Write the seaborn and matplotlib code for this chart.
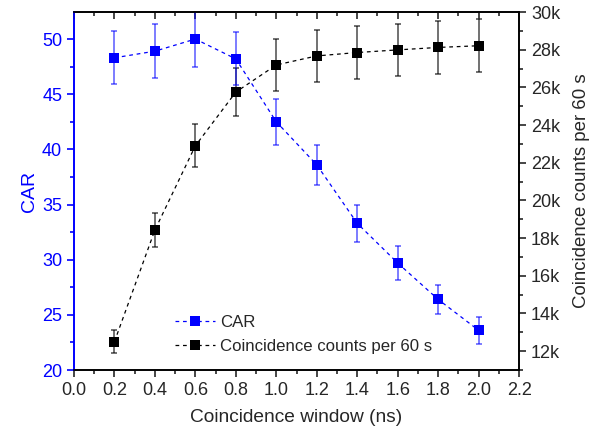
import numpy as np
import pandas as pd
import matplotlib
matplotlib.use("Agg")
import matplotlib.pyplot as plt
from matplotlib.ticker import MultipleLocator, FuncFormatter
import seaborn as sns

# Data
window_ns = [0.2, 0.4, 0.6, 0.8, 1.0, 1.2, 1.4, 1.6, 1.8, 2.0]
car = [48.3, 48.9, 50.0, 48.2, 42.5, 38.6, 33.3, 29.7, 26.4, 23.6]
car_err = [2.4, 2.45, 2.5, 2.4, 2.1, 1.8, 1.7, 1.5, 1.3, 1.2]
counts = [12500, 18430, 22900, 25750, 27190, 27670, 27850, 27990, 28120, 28210]
counts_err = [620, 900, 1150, 1290, 1360, 1370, 1400, 1400, 1400, 1400]

sns.set_style("ticks")
plt.rcParams['font.family'] = ['Liberation Sans', 'DejaVu Sans']

df = pd.DataFrame({'window': window_ns, 'car': car, 'counts': counts})

fig = plt.figure(figsize=(5.98, 4.37), dpi=100)
ax = fig.add_axes([0.1237, 0.1533, 0.7443, 0.8192])
ax2 = ax.twinx()

blue = '#0000ff'

# CAR on left axis
ax.errorbar(window_ns, car, yerr=car_err, fmt='none', ecolor=blue, alpha=0.6,
            elinewidth=1.2, capsize=2.5, capthick=1.2, zorder=2)
sns.lineplot(data=df, x='window', y='car', ax=ax, color=blue, marker='s',
             markersize=7, markeredgewidth=0, linestyle=(0, (3, 3)),
             linewidth=0.9, label='CAR', legend=False, zorder=3)

# counts on right axis
ax2.errorbar(window_ns, counts, yerr=counts_err, fmt='none', ecolor='black', alpha=0.65,
             elinewidth=1.2, capsize=2.5, capthick=1.2, zorder=2)
sns.lineplot(data=df, x='window', y='counts', ax=ax2, color='black', marker='s',
             markersize=7, markeredgewidth=0, linestyle=(0, (3, 3)),
             linewidth=0.9, label='Coincidence counts per 60 s', legend=False, zorder=3)

ax.set_xlim(0, 2.2)
ax.set_ylim(20, 52.45)
ax2.set_ylim(11000, 30000)

ax.xaxis.set_major_locator(MultipleLocator(0.2))
ax.xaxis.set_minor_locator(MultipleLocator(0.1))
ax.xaxis.set_major_formatter(FuncFormatter(lambda v, p: f"{v:.1f}"))
ax.yaxis.set_major_locator(MultipleLocator(5))
ax.yaxis.set_minor_locator(MultipleLocator(2.5))
ax2.yaxis.set_major_locator(MultipleLocator(2000))
ax2.yaxis.set_minor_locator(MultipleLocator(1000))
ax2.yaxis.set_major_formatter(FuncFormatter(lambda v, p: f"{v/1000:.0f}k"))

# spines
for a in (ax, ax2):
    for s in a.spines.values():
        s.set_linewidth(1.2)
        s.set_color('black')
ax2.spines['left'].set_color(blue)
ax.spines['left'].set_color(blue)

ax.tick_params(axis='x', which='major', direction='out', length=5, width=1.2, labelsize=13)
ax.tick_params(axis='x', which='minor', direction='out', length=3, width=1.2)
ax.tick_params(axis='y', which='major', direction='out', length=5, width=1.2,
               colors=blue, labelsize=13)
ax.tick_params(axis='y', which='minor', direction='out', length=3, width=1.2, colors=blue)
ax2.tick_params(axis='y', which='major', direction='out', length=5, width=1.2, labelsize=13)
ax2.tick_params(axis='y', which='minor', direction='out', length=3, width=1.2)

# inward ticks on the top edge
top = ax.secondary_xaxis('top')
top.xaxis.set_major_locator(MultipleLocator(0.2))
top.xaxis.set_minor_locator(MultipleLocator(0.1))
top.tick_params(which='major', direction='in', length=5, width=1.2, labeltop=False)
top.tick_params(which='minor', direction='in', length=3, width=1.2)
top.spines['top'].set_linewidth(1.2)

ax.set_xlabel('Coincidence window (ns)', fontsize=13.8, labelpad=7)
ax.set_ylabel('CAR', fontsize=14, color=blue, labelpad=3)
ax2.set_ylabel('Coincidence counts per 60 s', fontsize=13.4, labelpad=9)

h1 = ax.get_lines()[-1]
h2 = ax2.get_lines()[-1]
ax.legend([h1, h2], ['CAR', 'Coincidence counts per 60 s'], frameon=False,
          loc='lower left', bbox_to_anchor=(0.2, 0.012), fontsize=12.1,
          handlelength=2.4, handletextpad=0.3, labelspacing=0.55, borderpad=0.2)

ax.set_zorder(ax2.get_zorder() + 1)
ax.patch.set_visible(False)

fig.savefig('out.png', dpi=100)
